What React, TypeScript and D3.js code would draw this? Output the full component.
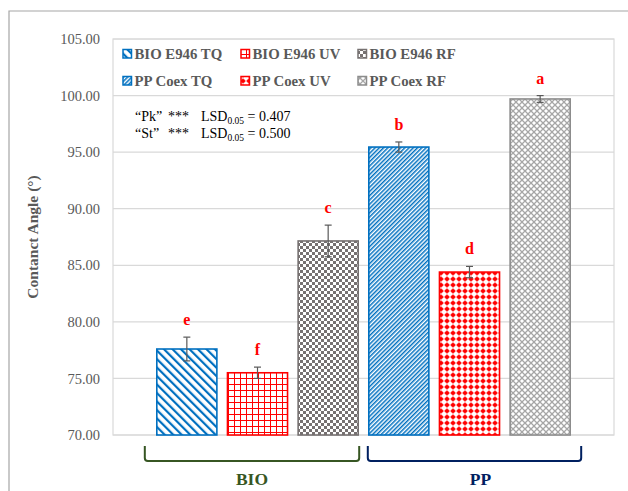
import React from 'react';
import * as d3 from 'd3';

const categories = ['BIO E946 TQ', 'BIO E946 UV', 'BIO E946 RF', 'PP Coex TQ', 'PP Coex UV', 'PP Coex RF'];
const means = [77.6, 75.5, 87.15, 95.45, 84.4, 99.7];
const errors = [1.05, 0.5, 1.4, 0.45, 0.5, 0.3];
const letters = ['e', 'f', 'c', 'b', 'd', 'a'];
const yTicks = [70, 75, 80, 85, 90, 95, 100, 105];
const groups = ['BIO', 'PP'];
const groupMembers = [[0, 1, 2], [3, 4, 5]];
const legendOrder = [0, 1, 2, 3, 4, 5]; // row 1: BIO, row 2: PP
const lsdLabels = ['“Pk”', '“St”'];
const lsdValues = ['0.407', '0.500'];

const BLUE = '#0070C0';
const RED = '#FF0000';
const GRAY = '#767171';
const LGRAY = '#A6A6A6';
const strokes = [BLUE, RED, GRAY, BLUE, RED, '#8C8C8C'];
const groupColors = ['#375623', '#002060'];
const serif = '"Liberation Serif", "Times New Roman", serif';

const W = 628;
const H = 491;
const margin = { left: 113, right: 14, top: 39, bottom: 56 };

const Patterns = () => (
  <defs>
    <pattern id="p0" width="6" height="6" patternUnits="userSpaceOnUse" patternTransform="rotate(-45)">
      <rect width="6" height="6" fill="#fff" />
      <rect x="0" width="2.2" height="6" fill={BLUE} />
    </pattern>
    <pattern id="p1" width="6" height="6" patternUnits="userSpaceOnUse">
      <rect width="6" height="6" fill="#fff" />
      <rect x="0" y="0" width="6" height="1" fill={RED} />
      <rect x="0" y="0" width="1" height="6" fill={RED} />
    </pattern>
    <pattern id="p2" width="6" height="6" patternUnits="userSpaceOnUse">
      <rect width="6" height="6" fill="#fff" />
      <rect x="0" y="0" width="3" height="3" fill={GRAY} />
      <rect x="3" y="3" width="3" height="3" fill={GRAY} />
    </pattern>
    <pattern id="p3" width="3" height="3" patternUnits="userSpaceOnUse" patternTransform="rotate(45)">
      <rect width="3" height="3" fill="#fff" />
      <rect x="0" width="1.5" height="3" fill={BLUE} />
    </pattern>
    <pattern id="p4" width="6" height="6" patternUnits="userSpaceOnUse">
      <rect width="6" height="6" fill="#fff" />
      <rect x="0" y="2.5" width="6" height="1" fill={RED} opacity="0.6" />
      <rect x="2.5" y="0" width="1" height="6" fill={RED} opacity="0.6" />
      <circle cx="3" cy="3" r="2.1" fill={RED} />
    </pattern>
    <pattern id="p5" width="6" height="6" patternUnits="userSpaceOnUse">
      <rect width="6" height="6" fill="#fff" />
      <path d="M0,0 L6,6 M6,0 L0,6" stroke={LGRAY} strokeWidth="1.3" />
    </pattern>
  </defs>
);

export default function App() {
  const x = d3.scaleBand<string>()
    .domain(categories)
    .range([margin.left, W - margin.right])
    .paddingInner(0.15)
    .paddingOuter(0.62);
  const y = d3.scaleLinear().domain([70, 105]).range([H - margin.bottom, margin.top]);
  const bw = x.bandwidth();
  const plotW = W - margin.right - margin.left;

  const legendX = [123, 241, 358];
  const legendY = [54, 81];

  return (
    <svg width={W} height={H} style={{ position: 'absolute', left: 0, top: 0 }} fontFamily={serif}>
      <Patterns />
      <rect width={W} height={H} fill="#fff" />
      {/* outer frame */}
      <path d={`M9,${H} L9,11 L${W},11`} fill="none" stroke="#A6A6A6" strokeWidth={1.2} />

      {/* gridlines */}
      {yTicks.map(t => (
        <line key={t} x1={margin.left} x2={W - margin.right} y1={y(t)} y2={y(t)} stroke="#D9D9D9" strokeWidth={1.2} />
      ))}
      <rect x={margin.left} y={y(105)} width={plotW} height={y(70) - y(105)} fill="none" stroke="#D9D9D9" strokeWidth={1.2} />

      {/* y tick labels */}
      {yTicks.map(t => (
        <text key={t} x={100} y={y(t)} dy="0.35em" textAnchor="end" fontSize={14.5} fill="#595959">
          {t.toFixed(2)}
        </text>
      ))}
      <text transform={`translate(38,${(y(70) + y(105)) / 2}) rotate(-90)`} textAnchor="middle" fontSize={15.5} fontWeight="bold" fill="#595959">
        Contanct Angle (°)
      </text>

      {/* bars */}
      {categories.map((c, i) => {
        const x0 = x(c)!;
        const cx = x0 + bw / 2;
        const top = y(means[i] + errors[i]);
        const bot = y(means[i] - errors[i]);
        return (
          <g key={c}>
            <rect x={x0} y={y(means[i])} width={bw} height={y(70) - y(means[i])} fill={`url(#p${i})`} stroke={strokes[i]} strokeWidth={1.6} />
            <line x1={cx} x2={cx} y1={top} y2={bot} stroke="#595959" strokeWidth={1.2} />
            <line x1={cx - 3.5} x2={cx + 3.5} y1={top} y2={top} stroke="#595959" strokeWidth={1.2} />
            <line x1={cx - 3.5} x2={cx + 3.5} y1={bot} y2={bot} stroke="#595959" strokeWidth={1.2} />
            <text x={cx} y={top - 12} textAnchor="middle" fontSize={16} fontWeight="bold" fill={RED}>
              {letters[i]}
            </text>
          </g>
        );
      })}

      {/* legend */}
      {legendOrder.map(i => {
        const col = i % 3;
        const row = Math.floor(i / 3);
        const lx = legendX[col];
        const ly = legendY[row];
        return (
          <g key={categories[i]}>
            <rect x={lx} y={ly - 4.5} width={8.5} height={8.5} fill={`url(#p${i})`} stroke={strokes[i]} strokeWidth={1.5} />
            <text x={lx + 11.5} y={ly} dy="0.35em" fontSize={14.8} fontWeight="bold" fill="#595959">
              {categories[i]}
            </text>
          </g>
        );
      })}

      {/* LSD annotation */}
      <g fontSize={14} fill="#000">
        {lsdLabels.map((l, i) => (
          <text key={l} x={135} y={121 + i * 17}>
            {l}<tspan x={168}>***</tspan><tspan x={201}>LSD</tspan><tspan fontSize={9.5} dy={3}>0.05</tspan><tspan dy={-3}> = {lsdValues[i]}</tspan>
          </text>
        ))}
      </g>

      {/* group brackets */}
      {groups.map((g, gi) => {
        const members = groupMembers[gi];
        const xs = x(categories[members[0]])! - 12 + gi * 11;
        const xe = x(categories[members[members.length - 1]])! + bw + 1 + gi * 10;
        const yb = 461;
        const yt = 446;
        const r = 3;
        return (
          <g key={g}>
            <path
              d={`M${xs},${yt} L${xs},${yb - r} Q${xs},${yb} ${xs + r},${yb} L${xe - r},${yb} Q${xe},${yb} ${xe},${yb - r} L${xe},${yt}`}
              fill="none"
              stroke={groupColors[gi]}
              strokeWidth={2}
            />
            <text x={(xs + xe) / 2 + gi * 6} y={479} dy="0.35em" textAnchor="middle" fontSize={17.5} fontWeight="bold" fill={groupColors[gi]}>
              {g}
            </text>
          </g>
        );
      })}
    </svg>
  );
}
